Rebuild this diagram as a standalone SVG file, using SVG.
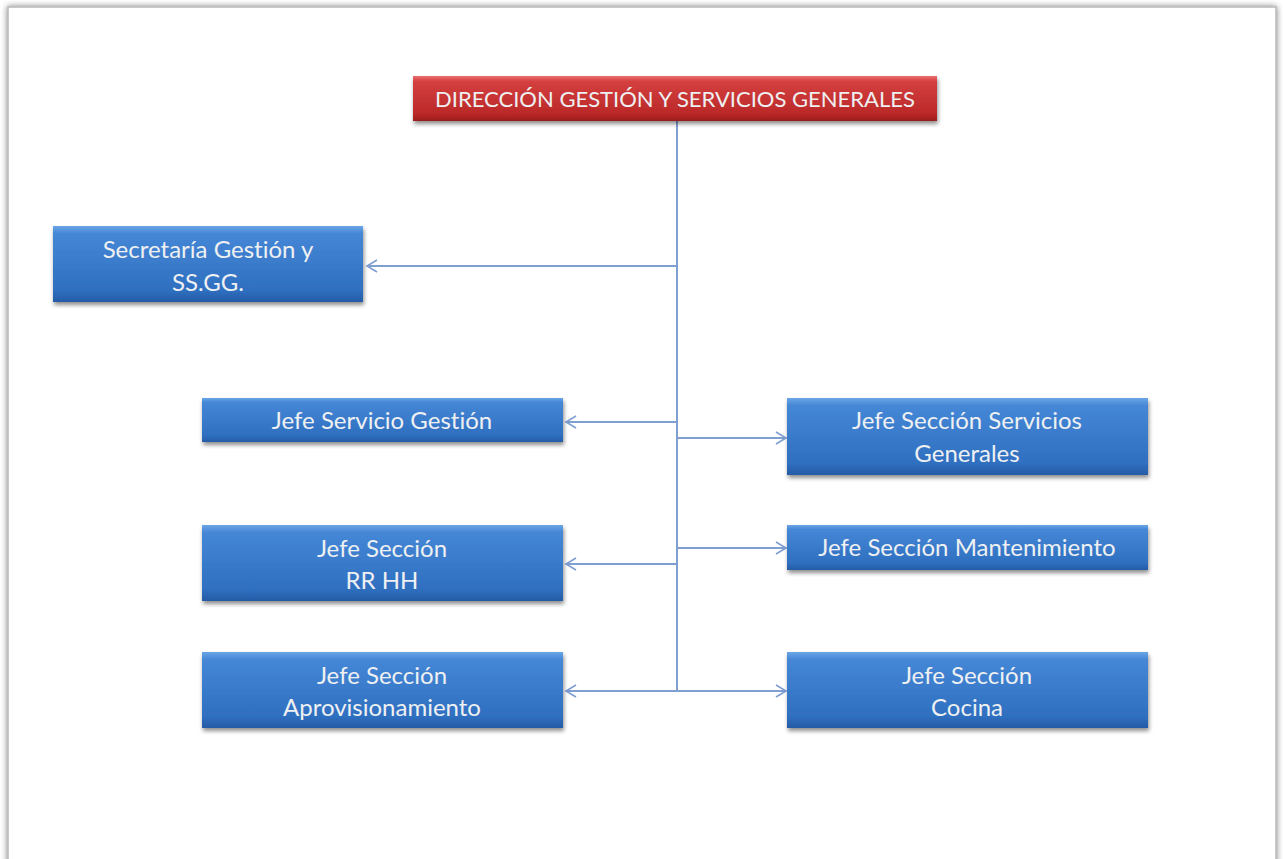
<svg xmlns="http://www.w3.org/2000/svg" width="1283" height="859" viewBox="0 0 1283 859">
<defs>
<linearGradient id="gb" x1="0" y1="0" x2="0" y2="1">
<stop offset="0" stop-color="#6aa5e6"/>
<stop offset="0.1" stop-color="#4587d6"/>
<stop offset="0.85" stop-color="#2f6fc0"/>
<stop offset="1" stop-color="#255ba5"/>
</linearGradient>
<linearGradient id="gr" x1="0" y1="0" x2="0" y2="1">
<stop offset="0" stop-color="#ec7070"/>
<stop offset="0.12" stop-color="#d43f3f"/>
<stop offset="0.85" stop-color="#bb2828"/>
<stop offset="1" stop-color="#981d1d"/>
</linearGradient>
<filter id="sh" x="-10%" y="-20%" width="120%" height="160%">
<feGaussianBlur in="SourceAlpha" stdDeviation="2"/>
<feOffset dx="1" dy="3" result="b"/>
<feComponentTransfer><feFuncA type="linear" slope="0.45"/></feComponentTransfer>
<feMerge><feMergeNode/><feMergeNode in="SourceGraphic"/></feMerge>
</filter>
<filter id="ps" x="-5%" y="-5%" width="110%" height="110%">
<feGaussianBlur in="SourceAlpha" stdDeviation="3"/>
<feComponentTransfer><feFuncA type="linear" slope="0.5"/></feComponentTransfer>
<feMerge><feMergeNode/><feMergeNode in="SourceGraphic"/></feMerge>
</filter>
<marker id="ah" markerWidth="14" markerHeight="14" refX="12" refY="7" orient="auto" markerUnits="userSpaceOnUse">
<path d="M2,1 L12,7 L2,13" fill="none" stroke="#7f9fd0" stroke-width="1.6"/>
</marker>
</defs>
<style>
.bx{fill:url(#gb);filter:url(#sh)}
.rd{fill:url(#gr);filter:url(#sh)}
.t{font-family:Lato,"Open Sans","Liberation Sans",sans-serif;font-size:24px;fill:#eef0f2;text-anchor:middle;font-variant-ligatures:none}
.tt{font-size:22px}
.c{stroke:#7f9fd0;stroke-width:2;fill:none}
.a{marker-end:url(#ah)}
</style>
<rect x="0" y="0" width="1283" height="859" fill="#ffffff"/>
<rect x="8" y="7" width="1268" height="880" fill="#ffffff" stroke="#b8b8b8" stroke-width="1.5" filter="url(#ps)"/>
<g id="connectors">
<line class="c" x1="677" y1="121" x2="677" y2="691"/>
<line class="c a" x1="677" y1="266" x2="367" y2="266"/>
<line class="c a" x1="677" y1="422" x2="566" y2="422"/>
<line class="c a" x1="677" y1="438" x2="786" y2="438"/>
<line class="c a" x1="677" y1="548" x2="786" y2="548"/>
<line class="c a" x1="677" y1="564" x2="566" y2="564"/>
<line class="c a" x1="677" y1="691" x2="566" y2="691"/>
<line class="c a" x1="677" y1="691" x2="786" y2="691"/>
</g>
<g id="n-direccion">
<rect class="rd" x="413" y="76" width="524" height="45"/>
<text class="t tt" x="675" y="107">DIRECCIÓN  GESTIÓN  Y SERVICIOS  GENERALES</text>
</g>
<g id="n-secretaria">
<rect class="bx" x="53" y="226" width="310" height="76"/>
<text class="t" x="208" y="258">Secretaría Gestión y</text>
<text class="t" x="208" y="291">SS.GG.</text>
</g>
<g id="n-servicio-gestion">
<rect class="bx" x="202" y="398" width="361" height="44"/>
<text class="t" x="382" y="429">Jefe Servicio Gestión</text>
</g>
<g id="n-servicios-generales">
<rect class="bx" x="787" y="398" width="361" height="77"/>
<text class="t" x="967" y="429">Jefe Sección Servicios</text>
<text class="t" x="967" y="462">Generales</text>
</g>
<g id="n-rrhh">
<rect class="bx" x="202" y="525" width="361" height="76"/>
<text class="t" x="382" y="557">Jefe Sección</text>
<text class="t" x="382" y="589">RR HH</text>
</g>
<g id="n-mantenimiento">
<rect class="bx" x="787" y="525" width="361" height="45"/>
<text class="t" x="967" y="556">Jefe Sección Mantenimiento</text>
</g>
<g id="n-aprovisionamiento">
<rect class="bx" x="202" y="652" width="361" height="76"/>
<text class="t" x="382" y="684">Jefe Sección</text>
<text class="t" x="382" y="716">Aprovisionamiento</text>
</g>
<g id="n-cocina">
<rect class="bx" x="787" y="652" width="361" height="76"/>
<text class="t" x="967" y="684">Jefe Sección</text>
<text class="t" x="967" y="716">Cocina</text>
</g>
</svg>
